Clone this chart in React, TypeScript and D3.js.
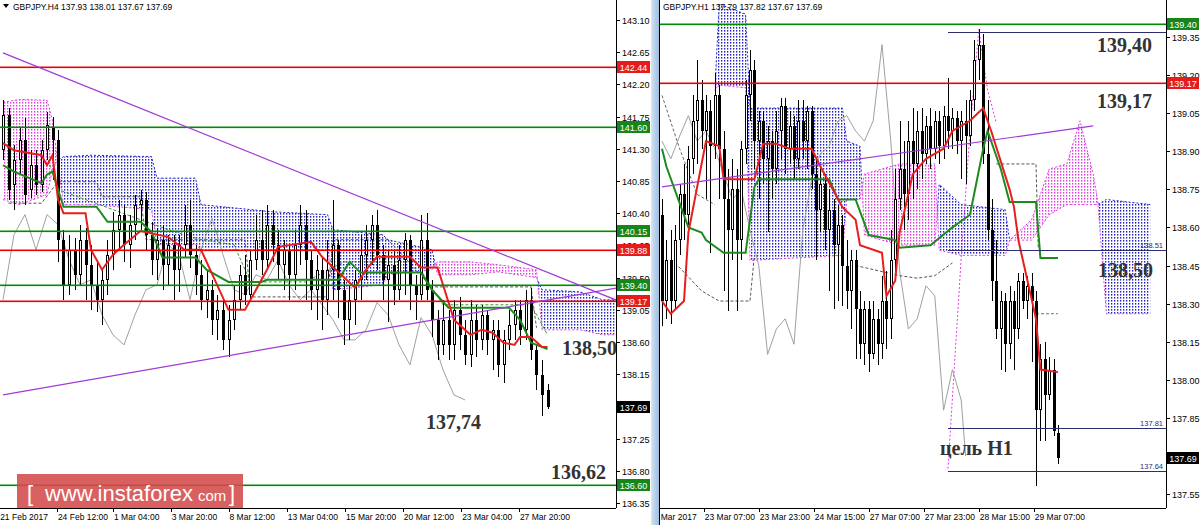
import React from "react";
import * as d3 from "d3";

type OHLC = [number, number, number, number];
type Pt = [number, number];

// ================= H4 panel (left) =================
const h4Title = "GBPJPY.H4  137.93 138.01 137.67 137.69";
const h4Ticks = [143.10, 142.65, 142.20, 141.75, 141.30, 140.85, 140.40, 139.95, 139.50, 139.05, 138.60, 138.15, 137.25, 136.80, 136.35];
const h4TimeLabels = ["21 Feb 2017", "24 Feb 12:00", "1 Mar 04:00", "3 Mar 20:00", "8 Mar 12:00", "13 Mar 04:00", "15 Mar 20:00", "20 Mar 12:00", "23 Mar 04:00", "27 Mar 20:00"];
const h4TimeIdx = [-0.7, 9.8, 20.0, 30.5, 41.0, 51.6, 62.2, 72.7, 83.3, 93.8];
const h4Levels = [142.44, 141.60, 140.15, 139.88, 139.40, 139.17, 136.60];
const h4LevelKind = ["res", "sup", "sup", "res", "sup", "res", "sup"];
const h4Last = 137.69;

// [open, high, low, close]
const h4Candles: OHLC[] = [
  [141.28,141.98,141.14,141.77],[141.77,141.87,140.59,140.73],[140.80,141.35,140.45,141.14],[141.14,141.59,140.94,141.42],
  [141.42,141.73,140.52,140.66],[140.73,141.28,140.61,141.07],[141.07,141.28,140.66,140.80],[140.80,141.42,140.70,141.28],
  [141.28,141.82,141.14,141.63],[141.59,141.75,140.87,141.42],[141.42,141.56,139.72,140.03],[140.03,140.17,139.19,139.40],
  [139.40,140.10,139.26,139.89],[139.89,140.06,139.33,139.54],[139.54,140.24,139.40,140.03],[140.03,140.20,139.19,139.68],
  [139.68,139.96,139.05,139.40],[139.40,139.75,139.02,139.19],[139.19,139.61,138.84,139.47],[139.47,140.03,139.26,139.82],
  [139.82,140.42,139.61,140.17],[140.17,140.59,139.89,140.38],[140.38,140.52,139.72,139.96],[139.96,140.38,139.64,140.24],
  [140.24,140.66,140.03,140.52],[140.52,140.73,140.17,140.59],[140.59,140.70,139.89,140.10],[140.10,140.28,139.54,139.75],
  [139.75,140.20,139.47,140.03],[140.03,140.24,139.33,139.68],[139.68,140.10,139.40,139.96],[139.96,140.10,139.19,139.61],
  [139.61,140.10,139.30,139.96],[139.96,140.52,139.78,140.24],[140.24,140.59,139.64,139.82],[139.82,139.96,139.26,139.54],
  [139.54,139.75,139.05,139.19],[139.19,139.61,138.94,139.33],[139.33,139.47,138.70,138.91],[138.91,139.26,138.63,139.05],
  [139.05,139.19,138.49,138.63],[138.63,139.12,138.39,138.91],[138.91,139.40,138.77,139.19],[139.19,139.68,139.05,139.54],
  [139.54,139.82,139.12,139.26],[139.26,139.89,139.16,139.75],[139.75,140.38,139.61,140.03],[140.03,140.45,139.54,139.75],
  [139.75,140.52,139.61,140.24],[140.24,140.45,139.72,139.96],[139.96,140.17,139.47,139.68],[139.68,140.03,139.33,139.89],
  [139.89,139.96,139.19,139.54],[139.54,140.17,139.33,139.96],[139.96,140.52,139.68,140.24],[140.24,140.45,139.19,139.75],
  [139.75,139.89,139.05,139.33],[139.33,139.82,138.91,139.61],[139.61,139.78,138.77,139.19],[139.19,140.03,138.98,139.61],
  [139.61,140.59,139.19,139.96],[139.96,140.03,138.94,139.33],[139.33,139.47,138.56,138.91],[138.91,139.40,138.63,139.19],
  [139.19,139.61,138.84,139.47],[139.47,140.10,139.19,139.82],[139.82,140.24,139.47,140.03],[140.03,140.38,139.68,140.24],
  [140.24,140.45,139.61,139.82],[139.82,139.96,139.19,139.47],[139.47,139.89,138.88,139.68],[139.68,139.89,139.12,139.33],
  [139.33,139.96,139.19,139.75],[139.75,140.13,139.26,140.03],[140.03,140.10,139.05,139.40],[139.40,139.54,138.91,139.26],
  [139.26,140.38,139.19,140.03],[140.03,140.40,139.19,139.33],[139.33,139.47,138.67,138.91],[138.91,139.05,138.35,138.56],
  [138.56,139.19,138.42,138.91],[138.91,139.05,138.35,138.56],[138.56,139.19,138.35,139.05],[139.05,139.23,138.49,138.70],
  [138.70,138.91,138.28,138.42],[138.42,139.19,138.25,138.91],[138.91,139.12,138.39,138.63],[138.63,139.12,138.49,138.98],
  [138.98,139.05,138.42,138.63],[138.63,138.91,138.21,138.77],[138.77,138.91,138.11,138.28],[138.28,138.77,138.03,138.63],
  [138.63,139.05,138.49,138.84],[138.84,139.19,138.63,139.05],[139.05,139.19,138.56,138.77],[138.77,139.33,138.63,139.19],
  [139.19,139.36,138.35,138.49],[138.49,138.56,137.93,138.14],[138.14,138.35,137.56,137.86],[137.93,138.01,137.67,137.69],
];

const h4Tenkan: Pt[] = [
  [0,141.38],[2,141.28],[7,141.21],[8,141.07],[9,141.21],[10,140.59],[11,140.40],[15,140.40],[16,139.89],[18,139.61],
  [20,139.82],[22,139.96],[25,140.15],[30,140.07],[33,139.89],[36,139.89],[41,139.05],[44,139.05],[48,139.61],[50,139.93],
  [56,140.00],[58,139.79],[64,139.36],[66,139.61],[68,139.79],[74,139.79],[76,139.64],[79,139.64],[80,139.40],[82,138.91],
  [85,138.70],[87,138.77],[89,138.73],[91,138.59],[93,138.56],[94,138.67],[96,138.67],[98,138.53],[99,138.53],
];
const h4Kijun: Pt[] = [
  [0,141.07],[2,140.98],[7,140.82],[8,140.94],[9,140.98],[10,140.73],[11,140.49],[17,140.49],[19,140.28],[25,140.28],
  [27,140.14],[29,139.78],[35,139.78],[37,139.61],[41,139.44],[47,139.44],[48,139.47],[61,139.47],[63,139.72],[65,139.57],
  [76,139.57],[78,139.33],[81,139.08],[92,139.08],[94,138.91],[96,138.59],[99,138.50],
];
// lagging line, one value every second bar
const h4Chikou = [
  139.19,140.10,140.38,139.89,140.38,140.24,139.75,139.40,139.47,138.98,138.70,138.56,138.98,139.33,139.40,139.96,
  139.82,139.19,139.89,140.33,139.82,139.33,139.26,139.54,139.47,139.75,139.40,139.19,139.33,139.12,138.91,138.63,
  138.63,138.77,139.15,138.98,138.56,138.28,138.94,138.70,138.21,137.86,137.79,
];
const h4CloudIdx = [0,3,8,9,10,11,16,27,28,35,36,49,59,60,69,70,78,79,85,90,97,98,105,109,112];
const h4SpanA = [141.95,141.99,141.98,141.70,141.07,140.52,140.52,140.45,139.96,139.96,139.89,139.89,139.89,139.33,139.40,139.54,139.61,139.72,139.72,139.68,139.61,138.77,138.77,138.70,138.70];
const h4SpanB = [140.59,140.52,140.66,141.01,141.14,141.19,141.21,141.19,140.89,140.89,140.52,140.42,140.38,140.17,140.10,140.03,139.89,139.54,139.54,139.58,139.50,139.33,139.30,139.19,139.19];
const h4DashGray: Pt[] = [[1,140.54],[7,140.54],[10,140.84],[17,140.84],[18,140.63],[25,140.63],[26,140.03],[44,140.03],[45,139.23],[59,139.23],[60,140.03],[70,140.03],[78,139.37],[96,139.37],[97,138.80]];
const h4DashGreen: Pt[] = [[8,141.21],[10,140.73],[30,140.17],[36,140.03],[42,139.96],[45,139.44],[55,139.44],[62,139.72],[75,139.72],[80,139.12],[96,139.12],[99,138.70]];
const h4TrendDown: Pt[] = [[0,142.64],[112,139.17]];
const h4TrendUp: Pt[] = [[0,137.86],[112,139.36]];

// ================= H1 panel (right) =================
const h1Title = "GBPJPY.H1  137.79 137.82 137.67 137.69";
const h1Ticks = [139.35, 139.20, 139.05, 138.90, 138.75, 138.60, 138.45, 138.30, 138.15, 138.00, 137.85, 137.55];
const h1TimeLabels = ["22 Mar 2017", "23 Mar 07:00", "23 Mar 23:00", "24 Mar 15:00", "27 Mar 07:00", "27 Mar 23:00", "28 Mar 15:00", "29 Mar 07:00"];
const h1TimeIdx = [-3.2, 9.5, 22.0, 34.5, 47.0, 59.5, 72.0, 84.5];
const h1Levels = [139.40, 139.17];
const h1LevelKind = ["sup", "res"];
const h1Marks = [139.37, 138.51, 137.81, 137.64];
const h1MarkLabels = ["", "138.51", "137.81", "137.64"];
const h1MarkStart = 65;
const h1Last = 137.69;

const h1Candles: OHLC[] = [
  [138.65,138.71,138.21,138.31],[138.31,138.55,138.24,138.47],[138.47,138.59,138.22,138.31],[138.31,138.61,138.28,138.55],
  [138.55,138.77,138.49,138.73],[138.73,138.85,138.55,138.65],[138.65,138.92,138.61,138.87],[138.87,139.12,138.81,139.02],
  [139.02,139.26,138.85,139.10],[139.10,139.18,138.91,138.98],[138.98,139.12,138.71,139.06],[139.06,139.10,138.50,138.92],
  [138.92,139.21,138.87,139.12],[139.12,139.16,138.71,138.91],[138.91,138.98,138.35,138.71],[138.71,138.83,138.27,138.59],
  [138.59,138.87,138.47,138.75],[138.75,138.83,138.27,138.55],[138.55,138.94,138.47,138.91],[138.91,139.18,138.85,139.12],
  [139.12,139.30,139.02,139.22],[139.22,139.26,138.83,138.94],[138.94,139.06,138.71,139.02],[139.02,139.06,138.77,138.87],
  [138.87,139.00,138.58,138.94],[138.94,138.98,138.71,138.83],[138.83,139.06,138.77,138.98],[138.98,139.11,138.87,139.08],
  [139.08,139.11,138.81,138.91],[138.91,139.06,138.85,139.00],[139.00,139.04,138.79,138.87],[138.87,139.10,138.83,139.02],
  [139.02,139.10,138.87,138.94],[138.94,139.08,138.83,139.06],[139.06,139.08,138.75,138.81],[138.81,138.87,138.47,138.67],
  [138.67,138.85,138.58,138.77],[138.77,138.81,138.51,138.59],[138.59,138.75,138.35,138.67],[138.67,138.71,138.28,138.53],
  [138.53,138.69,138.31,138.61],[138.61,138.65,138.29,138.45],[138.45,138.55,138.28,138.35],[138.35,138.51,138.20,138.47],
  [138.47,138.51,138.08,138.28],[138.28,138.35,138.08,138.14],[138.14,138.31,138.06,138.28],[138.28,138.31,138.03,138.10],
  [138.10,138.31,138.08,138.24],[138.24,138.28,138.06,138.14],[138.14,138.41,138.08,138.31],[138.31,138.43,138.12,138.24],
  [138.24,138.59,138.16,138.47],[138.47,138.83,138.39,138.71],[138.71,139.02,138.67,138.83],[138.83,138.94,138.59,138.73],
  [138.73,139.02,138.63,138.94],[138.94,139.07,138.71,138.85],[138.85,139.06,138.75,138.98],[138.98,139.07,138.79,138.89],
  [138.89,139.04,138.85,139.00],[139.00,139.07,138.83,138.91],[138.91,139.06,138.87,139.02],[139.02,139.06,138.85,138.92],
  [138.92,139.08,138.87,139.04],[139.04,139.19,138.91,138.98],[138.98,139.07,138.91,139.03],[139.03,139.06,138.89,138.94],
  [138.94,139.06,138.79,139.02],[139.02,139.10,138.77,138.96],[138.96,139.14,138.92,139.10],[139.10,139.34,139.06,139.26],
  [139.26,139.38,139.18,139.32],[139.32,139.36,138.85,138.89],[138.89,139.10,138.55,138.59],[138.59,138.71,138.31,138.39],
  [138.39,138.55,138.16,138.20],[138.20,138.35,138.04,138.31],[138.31,138.34,138.03,138.14],[138.14,138.37,138.08,138.31],
  [138.31,138.35,138.04,138.20],[138.20,138.42,138.16,138.39],[138.39,138.42,138.28,138.31],[138.31,138.41,138.24,138.37],
  [138.37,138.42,138.07,138.31],[138.31,138.35,137.58,137.88],[137.88,138.14,137.76,138.08],[138.08,138.15,137.76,137.94],
  [137.94,138.09,137.92,138.04],[138.04,138.08,137.78,137.80],[137.79,137.82,137.67,137.69],
];
const h1Tenkan: Pt[] = [
  [0,138.31],[2,138.26],[5,138.31],[6,138.58],[10,138.94],[13,138.92],[14,138.79],[21,138.79],[23,138.93],[26,138.93],
  [29,138.91],[34,138.91],[36,138.84],[41,138.68],[44,138.63],[45,138.53],[50,138.50],[51,138.33],[53,138.39],[54,138.58],
  [57,138.81],[60,138.87],[64,138.91],[66,138.98],[70,139.02],[73,139.07],[75,138.97],[79,138.75],[80,138.68],[81,138.55],
  [85,138.24],[86,138.04],[90,138.03],
];
const h1Kijun: Pt[] = [
  [0,138.91],[1,138.84],[6,138.60],[9,138.58],[10,138.55],[14,138.50],[19,138.50],[21,138.76],[22,138.79],[38,138.79],
  [40,138.71],[44,138.71],[47,138.57],[53,138.55],[54,138.52],[61,138.53],[66,138.60],[70,138.65],[73,138.91],[74,138.98],
  [77,138.83],[79,138.70],[85,138.70],[86,138.48],[90,138.48],
];
const h1Chikou: Pt[] = [
  [0,138.94],[2,138.87],[4,138.96],[6,139.04],[8,138.94],[10,138.98],[12,138.91],[14,138.81],[16,138.71],[18,138.75],
  [20,138.59],[22,138.45],[24,138.10],[26,138.20],[28,138.24],[30,138.14],[32,138.59],[34,138.79],[36,138.89],[38,138.92],
  [40,139.02],[42,139.04],[44,138.98],[46,138.94],[48,139.02],[50,139.32],[52,138.94],[54,138.43],[56,138.20],[58,138.24],
  [60,138.37],[62,138.33],[64,137.88],[66,138.04],[68,137.92],[69,137.70],
];
const h1CloudIdx = [12,13,19,20,41,42,45,46,54,62,63,68,78,79,84,88,92,95,98,99,101,111];
const h1SpanA = [139.14,139.16,139.15,138.47,138.49,138.71,138.71,138.81,138.85,138.85,138.51,138.49,138.49,138.55,138.63,138.83,138.85,139.02,138.81,138.71,138.26,138.26];
const h1SpanB = [139.14,139.48,139.44,139.07,139.07,138.94,138.92,138.57,138.53,138.53,138.77,138.69,138.67,138.55,138.55,138.65,138.69,138.69,138.69,138.69,138.71,138.69];
const h1DashGray: Pt[] = [[0,139.12],[4,138.91],[8,138.73],[12,138.69]];
const h1DashGray2: Pt[] = [[3,138.46],[9,138.35],[13,138.31],[20,138.31],[21,138.49]];
const h1DashGray3: Pt[] = [[44,138.45],[54,138.41],[58,138.40],[62,138.41],[66,138.46]];
const h1DashGray4: Pt[] = [[76,138.85],[85,138.85],[85.5,138.52]];
const h1DashGreen: Pt[] = [[85,138.26],[90,138.26]];
const h1PinkDots: Pt[] = [[65,137.65],[68,138.48],[70,138.98],[72,139.38],[74,139.14],[76,139.01]];
const h1Trend: Pt[] = [[0,138.76],[98,139.00]];

// ================= styling =================
const C_RED = "#e41c1c";
const C_GREEN = "#17861a";
const C_LRED = "#f00000";
const C_LGREEN = "#008c00";
const C_TENKAN = "#e81e1e";
const C_KIJUN = "#1e8a1e";
const C_NAVY = "#2d2d72";
const C_PURPLE = "#a03ad6";
const C_BLUEDOT = "#2222c8";
const C_PINKDOT = "#e040e0";
const SANS = "'Liberation Sans', Arial, sans-serif";
const SERIF = "'Liberation Serif', 'Times New Roman', serif";

function Candles({ data, x, y }: any) {
  return (
    <g>
      {data.map((d: OHLC, i: number) => {
        const [o, h, l, c] = d;
        const cx = Math.round(x(i));
        const top = Math.round(y(Math.max(o, c)));
        const bot = Math.round(y(Math.min(o, c)));
        const bull = c > o;
        return (
          <g key={i}>
            <line x1={cx + 0.5} x2={cx + 0.5} y1={Math.round(y(h))} y2={Math.round(y(l))} stroke="#000" strokeWidth={1} />
            {bull ? (
              <rect x={cx - 0.5} y={top + 0.5} width={2} height={Math.max(bot - top - 1, 1)} fill="#fff" stroke="#000" strokeWidth={1} />
            ) : (
              <rect x={cx - 1} y={top} width={3} height={Math.max(bot - top, 1)} fill="#000" />
            )}
          </g>
        );
      })}
    </g>
  );
}

function Cloud({ id, x, y, idx, a, b, top, bottom }: any) {
  const pts = idx.map((i: number, k: number) => ({ i, a: a[k], b: b[k] }));
  const band = d3.area<any>().x((d) => x(d.i)).y0((d) => y(d.a)).y1((d) => y(d.b))(pts);
  const upper = d3.area<any>().x((d) => x(d.i)).y0(top).y1((d) => y(d.a))(pts);
  const lower = d3.area<any>().x((d) => x(d.i)).y0((d) => y(d.a)).y1(bottom)(pts);
  const la = d3.line<any>().x((d) => x(d.i)).y((d) => y(d.a))(pts);
  const lb = d3.line<any>().x((d) => x(d.i)).y((d) => y(d.b))(pts);
  return (
    <g>
      <defs>
        <clipPath id={id + "u"}><path d={upper || ""} /></clipPath>
        <clipPath id={id + "l"}><path d={lower || ""} /></clipPath>
      </defs>
      <path d={band || ""} fill="url(#dotBlue)" clipPath={`url(#${id}u)`} />
      <path d={band || ""} fill="url(#dotPink)" clipPath={`url(#${id}l)`} />
      <path d={lb || ""} fill="none" stroke={C_BLUEDOT} strokeWidth={1} strokeDasharray="2,2" clipPath={`url(#${id}u)`} />
      <path d={lb || ""} fill="none" stroke={C_PINKDOT} strokeWidth={1} strokeDasharray="2,2" clipPath={`url(#${id}l)`} />
      <path d={la || ""} fill="none" stroke={C_PINKDOT} strokeWidth={1} strokeDasharray="2,2" />
    </g>
  );
}

function PLine({ pts, x, y, ...rest }: any) {
  const d = d3.line<Pt>().x((p) => x(p[0])).y((p) => y(p[1]))(pts) || "";
  return <path d={d} fill="none" {...rest} />;
}

function Box({ v, y, x0, w, fill, text }: any) {
  const yy = Math.round(y(v));
  return (
    <g>
      <rect x={x0} y={yy - 6} width={w} height={12} fill={fill} />
      <text x={x0 + w / 2} y={yy + 3.5} textAnchor="middle" fontSize={9} fontFamily={SANS} fill="#fff">{text}</text>
    </g>
  );
}

export default function App() {
  const xL = d3.scaleLinear().domain([0, 99]).range([3, 547.5]);
  const yL = d3.scaleLinear().domain([136.35, 143.10]).range([503, 20]);
  const xR = d3.scaleLinear().domain([0, 90]).range([662, 1058]);
  const yR = d3.scaleLinear().domain([137.55, 139.35]).range([494, 37]);

  const LAX = 616; // left axis x
  const RAX = 1166; // right axis x
  const RX0 = 660; // right panel left edge
  const BOT = 508;

  const kindColor = (k: string) => (k === "res" ? C_LRED : C_LGREEN);
  const kindBox = (k: string) => (k === "res" ? C_RED : C_GREEN);

  const h4ChikouPts: Pt[] = h4Chikou.map((v, k) => [k * 2, v]);

  return (
    <svg width={1200} height={525} style={{ position: "absolute", left: 0, top: 0, background: "#fff" }} fontFamily={SANS}>
      <defs>
        <pattern id="dotBlue" width={3} height={3} patternUnits="userSpaceOnUse">
          <rect x={1} y={0} width={1.3} height={1.6} fill={C_BLUEDOT} />
        </pattern>
        <pattern id="dotPink" width={3} height={3} patternUnits="userSpaceOnUse">
          <rect x={1} y={0} width={1.3} height={1.6} fill={C_PINKDOT} />
        </pattern>
        <clipPath id="clipL"><rect x={0} y={0} width={LAX} height={BOT} /></clipPath>
        <clipPath id="clipR"><rect x={RX0} y={0} width={RAX - RX0} height={BOT} /></clipPath>
        <clipPath id="clipRT"><rect x={RX0} y={BOT} width={RAX - RX0 + 40} height={20} /></clipPath>
        <linearGradient id="sep" x1="0" x2="1" y1="0" y2="0">
          <stop offset="0" stopColor="#d8e7f5" />
          <stop offset="0.5" stopColor="#b7d0ea" />
          <stop offset="1" stopColor="#9fbfe0" />
        </linearGradient>
      </defs>
      <rect x={0} y={0} width={1200} height={525} fill="#fff" />

      {/* ============ LEFT PANEL ============ */}
      <g clipPath="url(#clipL)">
        <Cloud id="cL" x={xL} y={yL} idx={h4CloudIdx} a={h4SpanA} b={h4SpanB} top={0} bottom={BOT} />
        <PLine pts={h4ChikouPts} x={xL} y={yL} stroke="#a0a0a0" strokeWidth={1} />
        <PLine pts={h4DashGray} x={xL} y={yL} stroke="#555" strokeWidth={1} strokeDasharray="3,2" />
        <PLine pts={h4DashGreen} x={xL} y={yL} stroke="#3a9a3a" strokeWidth={1} strokeDasharray="3,2" />
        <Candles data={h4Candles} x={xL} y={yL} />
        <PLine pts={h4Kijun} x={xL} y={yL} stroke={C_KIJUN} strokeWidth={2} />
        <PLine pts={h4Tenkan} x={xL} y={yL} stroke={C_TENKAN} strokeWidth={2} />
        {h4Levels.map((v, i) => (
          <rect key={i} x={0} width={LAX} y={Math.round(yL(v)) - 0.5} height={1.6} fill={kindColor(h4LevelKind[i])} />
        ))}
        <PLine pts={h4TrendDown} x={xL} y={yL} stroke={C_PURPLE} strokeWidth={1.2} />
        <PLine pts={h4TrendUp} x={xL} y={yL} stroke={C_PURPLE} strokeWidth={1.2} />
      </g>
      {/* header */}
      <path d="M3,4 L9,4 L6,8 Z" fill="#000" />
      <text x={13} y={10} fontSize={8.5} fill="#000">{h4Title}</text>

      {/* annotations left */}
      <text x={562} y={355} fontSize={20} fontWeight="bold" fontFamily={SERIF} fill="#333">138,50</text>
      <text x={426} y={429} fontSize={20} fontWeight="bold" fontFamily={SERIF} fill="#333">137,74</text>
      <text x={551} y={479} fontSize={20} fontWeight="bold" fontFamily={SERIF} fill="#333">136,62</text>

      {/* watermark */}
      <rect x={17} y={474} width={226} height={34} fill="#d44a4a" opacity={0.88} />
      <text x={27} y={501} fontSize={22} fill="#fff">[</text>
      <text x={45} y={501} fontSize={22} fill="#fff">www.instaforex</text>
      <text x={198} y={501} fontSize={15} fill="#fff">com</text>
      <text x={229} y={501} fontSize={22} fill="#fff">]</text>

      {/* left axes */}
      <line x1={LAX + 0.5} x2={LAX + 0.5} y1={0} y2={BOT} stroke="#000" />
      <line x1={0} x2={LAX} y1={BOT + 0.5} y2={BOT + 0.5} stroke="#000" />
      {h4Ticks.map((v, i) => (
        <g key={i}>
          <line x1={LAX} x2={LAX + 4} y1={Math.round(yL(v)) + 0.5} y2={Math.round(yL(v)) + 0.5} stroke="#000" />
          <text x={LAX + 6} y={Math.round(yL(v)) + 3.5} fontSize={9} fill="#000">{v.toFixed(2)}</text>
        </g>
      ))}
      {h4Levels.map((v, i) => (
        <Box key={i} v={v} y={yL} x0={LAX + 1} w={33} fill={kindBox(h4LevelKind[i])} text={v.toFixed(2)} />
      ))}
      <Box v={h4Last} y={yL} x0={LAX + 1} w={33} fill="#000" text={h4Last.toFixed(2)} />
      {h4TimeLabels.map((t, i) => (
        <g key={i}>
          <line x1={Math.round(xL(h4TimeIdx[i])) + 0.5} x2={Math.round(xL(h4TimeIdx[i])) + 0.5} y1={BOT} y2={BOT + 4} stroke="#000" />
          <text x={xL(h4TimeIdx[i]) + 1} y={520} fontSize={8.5} fill="#000">{t}</text>
        </g>
      ))}

      {/* separator */}
      <rect x={651} y={0} width={8} height={525} fill="url(#sep)" />
      <line x1={659.5} x2={659.5} y1={0} y2={525} stroke="#000" />

      {/* ============ RIGHT PANEL ============ */}
      <g clipPath="url(#clipR)">
        <Cloud id="cR" x={xR} y={yR} idx={h1CloudIdx} a={h1SpanA} b={h1SpanB} top={0} bottom={BOT} />
        <PLine pts={h1Chikou} x={xR} y={yR} stroke="#a0a0a0" strokeWidth={1} />
        <PLine pts={h1DashGray} x={xR} y={yR} stroke="#666" strokeWidth={1} strokeDasharray="3,2" />
        <PLine pts={h1DashGray2} x={xR} y={yR} stroke="#555" strokeWidth={1} strokeDasharray="3,2" />
        <PLine pts={h1DashGray3} x={xR} y={yR} stroke="#555" strokeWidth={1} strokeDasharray="3,2" />
        <PLine pts={h1DashGray4} x={xR} y={yR} stroke="#555" strokeWidth={1} strokeDasharray="3,2" />
        <PLine pts={h1DashGreen} x={xR} y={yR} stroke="#3a9a3a" strokeWidth={1} strokeDasharray="3,2" />
        <PLine pts={h1PinkDots} x={xR} y={yR} stroke={C_PINKDOT} strokeWidth={1} strokeDasharray="2,2" />
        <Candles data={h1Candles} x={xR} y={yR} />
        <PLine pts={h1Kijun} x={xR} y={yR} stroke={C_KIJUN} strokeWidth={2} />
        <PLine pts={h1Tenkan} x={xR} y={yR} stroke={C_TENKAN} strokeWidth={2} />
        {h1Levels.map((v, i) => (
          <rect key={i} x={RX0} width={RAX - RX0} y={Math.round(yR(v)) - 0.5} height={1.6} fill={kindColor(h1LevelKind[i])} />
        ))}
        {h1Marks.map((v, i) => (
          <g key={i}>
            <line x1={xR(h1MarkStart)} x2={RAX} y1={Math.round(yR(v)) + 0.5} y2={Math.round(yR(v)) + 0.5} stroke={C_NAVY} strokeWidth={1} />
            <text x={RAX - 3} y={Math.round(yR(v)) - 2} textAnchor="end" fontSize={7.5} fill={C_NAVY}>{h1MarkLabels[i]}</text>
          </g>
        ))}
        <PLine pts={h1Trend} x={xR} y={yR} stroke={C_PURPLE} strokeWidth={1.2} />
      </g>
      <text x={663} y={10} fontSize={8.5} fill="#000">{h1Title}</text>

      {/* annotations right */}
      <text x={1097} y={52} fontSize={20} fontWeight="bold" fontFamily={SERIF} fill="#333">139,40</text>
      <text x={1097} y={108} fontSize={20} fontWeight="bold" fontFamily={SERIF} fill="#333">139,17</text>
      <text x={1098} y={277} fontSize={20} fontWeight="bold" fontFamily={SERIF} fill="#333">138,50</text>
      <text x={940} y={455} fontSize={20} fontWeight="bold" fontFamily={SERIF} fill="#333">цель Н1</text>

      {/* right axes */}
      <line x1={RAX + 0.5} x2={RAX + 0.5} y1={0} y2={BOT} stroke="#000" />
      <line x1={RX0} x2={RAX} y1={BOT + 0.5} y2={BOT + 0.5} stroke="#000" />
      {h1Ticks.map((v, i) => (
        <g key={i}>
          <line x1={RAX} x2={RAX + 4} y1={Math.round(yR(v)) + 0.5} y2={Math.round(yR(v)) + 0.5} stroke="#000" />
          <text x={RAX + 6} y={Math.round(yR(v)) + 3.5} fontSize={9} fill="#000">{v.toFixed(2)}</text>
        </g>
      ))}
      {h1Levels.map((v, i) => (
        <Box key={i} v={v} y={yR} x0={RAX + 1} w={32} fill={kindBox(h1LevelKind[i])} text={v.toFixed(2)} />
      ))}
      <Box v={h1Last} y={yR} x0={RAX + 1} w={32} fill="#000" text={h1Last.toFixed(2)} />
      <g clipPath="url(#clipRT)">
        {h1TimeLabels.map((t, i) => (
          <g key={i}>
            <line x1={Math.round(xR(h1TimeIdx[i])) + 0.5} x2={Math.round(xR(h1TimeIdx[i])) + 0.5} y1={BOT} y2={BOT + 4} stroke="#000" />
            <text x={xR(h1TimeIdx[i]) + 1} y={520} fontSize={8.5} fill="#000">{t}</text>
          </g>
        ))}
      </g>
    </svg>
  );
}
